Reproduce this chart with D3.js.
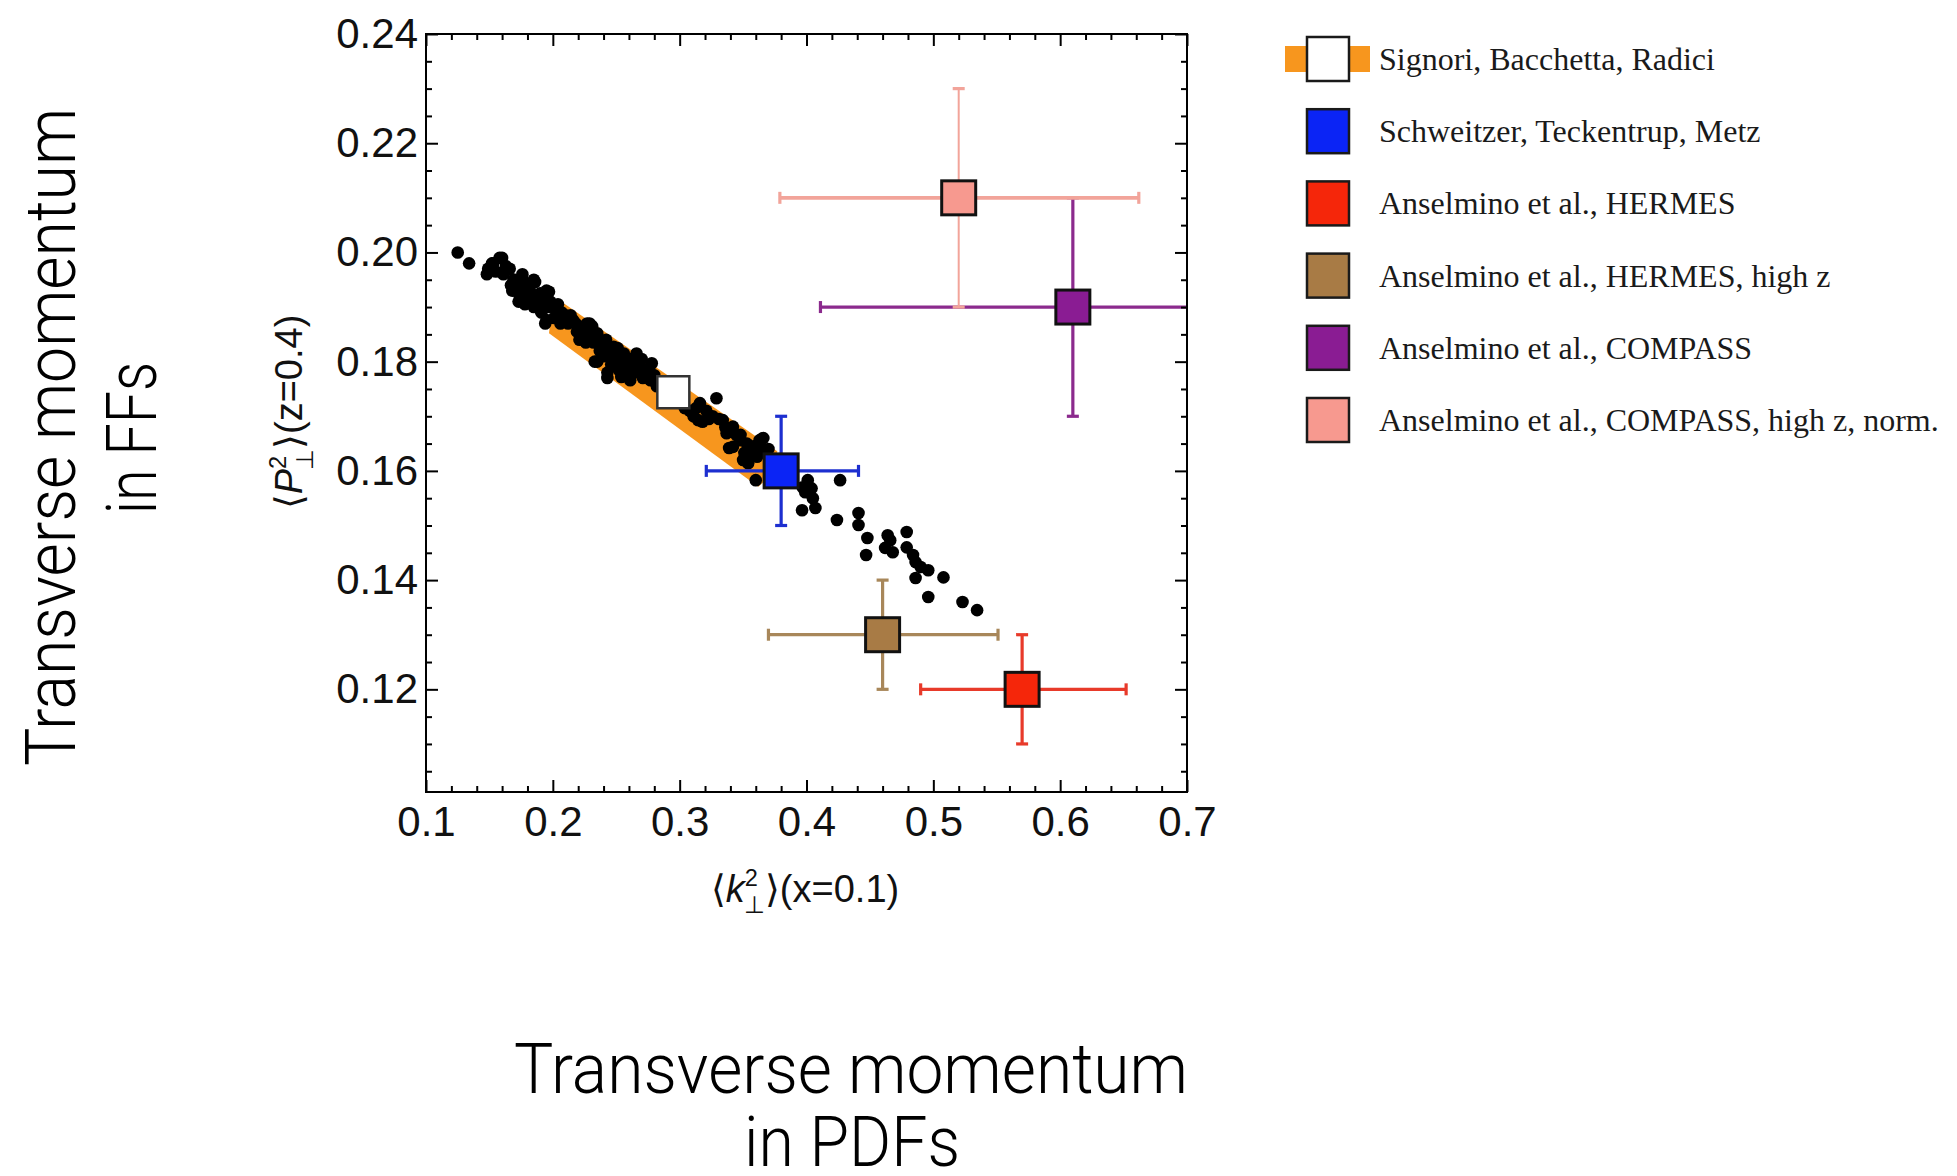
<!DOCTYPE html>
<html>
<head>
<meta charset="utf-8">
<script src="https://cdnjs.cloudflare.com/ajax/libs/d3/7.8.5/d3.min.js"></script>
<style>
    body { margin: 0; background: #fff; }
</style>
</head>
<body>
<svg id="svg" width="1957" height="1176"></svg>
<script>
// tick values / labels
var xTicks = [0.1, 0.2, 0.3, 0.4, 0.5, 0.6, 0.7];
var xTickLabels = ["0.1", "0.2", "0.3", "0.4", "0.5", "0.6", "0.7"];
var yTicks = [0.12, 0.14, 0.16, 0.18, 0.20, 0.22, 0.24];
var yTickLabels = ["0.12", "0.14", "0.16", "0.18", "0.20", "0.22", "0.24"];

// extractions (first one = Signori et al. fit, no error bars)
var fitNames = ["Signori, Bacchetta, Radici",
    "Schweitzer, Teckentrup, Metz",
    "Anselmino et al., HERMES",
    "Anselmino et al., HERMES, high z",
    "Anselmino et al., COMPASS",
    "Anselmino et al., COMPASS, high z, norm."];
var fitX = [0.295, 0.38, 0.57, 0.46, 0.61, 0.52];
var fitY = [0.1744, 0.16, 0.12, 0.13, 0.19, 0.21];
var fitXLo = [null, 0.321, 0.49, 0.37, 0.411, 0.379];
var fitXHi = [null, 0.441, 0.652, 0.551, 0.72, 0.662];
var fitYLo = [null, 0.15, 0.11, 0.12, 0.17, 0.19];
var fitYHi = [null, 0.17, 0.13, 0.14, 0.21, 0.23];

// 68% band of the fit (outline)
var bandX = [0.197, 0.199, 0.206, 0.377, 0.374, 0.362];
var bandY = [0.1852, 0.1895, 0.1911, 0.1636, 0.1596, 0.1571];

// replicas (black dots)
var replicaX = [0.125, 0.134, 0.148, 0.149, 0.152, 0.153, 0.158, 0.160, 0.161, 0.166,
    0.167, 0.169, 0.170, 0.168, 0.173, 0.174, 0.176, 0.176, 0.179, 0.179,
    0.181, 0.185, 0.185, 0.186, 0.190, 0.190, 0.191, 0.194, 0.195, 0.195,
    0.197, 0.198, 0.200, 0.203, 0.206, 0.209, 0.210, 0.216, 0.218, 0.221,
    0.222, 0.227, 0.227, 0.229, 0.230, 0.233, 0.235, 0.235, 0.236, 0.237,
    0.242, 0.242, 0.243, 0.243, 0.248, 0.248, 0.250, 0.253, 0.254, 0.254,
    0.256, 0.258, 0.260, 0.261, 0.264, 0.266, 0.266, 0.272, 0.274, 0.277,
    0.278, 0.282,
    0.155, 0.163, 0.171, 0.175, 0.178, 0.182, 0.184, 0.188, 0.192, 0.196,
    0.201, 0.204, 0.207, 0.212, 0.214, 0.219, 0.224, 0.226, 0.231, 0.232,
    0.239, 0.240, 0.245, 0.246, 0.251, 0.252, 0.257, 0.262, 0.263, 0.268,
    0.270, 0.271, 0.276, 0.280, 0.285,
    0.300, 0.304, 0.308, 0.311, 0.313, 0.3145, 0.316, 0.318, 0.321, 0.323,
    0.326, 0.329, 0.331, 0.334, 0.336, 0.337, 0.339, 0.342, 0.342, 0.345,
    0.348, 0.348, 0.350, 0.351, 0.353, 0.354, 0.356, 0.358, 0.361, 0.363,
    0.365, 0.366, 0.366, 0.370, 0.360,
    0.397, 0.401, 0.404, 0.399, 0.405, 0.3965, 0.407, 0.4265, 0.424, 0.441,
    0.441, 0.448, 0.447, 0.464, 0.466, 0.462, 0.468, 0.479, 0.479, 0.484,
    0.486, 0.490, 0.496, 0.486, 0.508, 0.496, 0.523, 0.5345];
var replicaY = [0.200, 0.198, 0.196, 0.197, 0.198, 0.198, 0.199, 0.199, 0.196, 0.197,
    0.194, 0.195, 0.195, 0.193, 0.191, 0.192, 0.196, 0.195, 0.194, 0.1925,
    0.191, 0.195, 0.190, 0.1946, 0.1925, 0.1895, 0.189, 0.187, 0.193, 0.1876,
    0.1928, 0.191, 0.190, 0.1895, 0.187, 0.188, 0.1885, 0.1876, 0.187, 0.184,
    0.1864, 0.187, 0.1846, 0.187, 0.185, 0.180, 0.1852, 0.180, 0.184, 0.182,
    0.184, 0.1827, 0.178, 0.177, 0.1827, 0.181, 0.182, 0.181, 0.1797, 0.1772,
    0.1815, 0.1797, 0.1785, 0.1766, 0.178, 0.1815, 0.1797, 0.1785, 0.1785, 0.1766,
    0.1797, 0.1755,
    0.1965, 0.1975, 0.1935, 0.1945, 0.1905, 0.193, 0.1915, 0.191, 0.1915, 0.190,
    0.188, 0.1905, 0.189, 0.187, 0.1885, 0.1855, 0.1855, 0.1835, 0.1865, 0.1835,
    0.1835, 0.181, 0.1815, 0.1795, 0.1825, 0.1785, 0.1805, 0.1805, 0.1795, 0.179,
    0.1805, 0.177, 0.1785, 0.1775, 0.176,
    0.1725, 0.1715, 0.171, 0.170, 0.1715, 0.1693, 0.1724, 0.169, 0.171, 0.1695,
    0.170, 0.1733, 0.1695, 0.1693, 0.168, 0.1669, 0.1642, 0.1681, 0.1644, 0.1665,
    0.1666, 0.1656, 0.162, 0.1633, 0.165, 0.1614, 0.1632, 0.1645, 0.1626, 0.1656,
    0.1659, 0.166, 0.1638, 0.164, 0.1583,
    0.157, 0.1583, 0.1568, 0.1561, 0.155, 0.1528, 0.1532, 0.1583, 0.151, 0.1523,
    0.1501, 0.1477, 0.1446, 0.1482, 0.1473, 0.1459, 0.1451, 0.1488, 0.146, 0.1446,
    0.1433, 0.1424, 0.1418, 0.1404, 0.1405, 0.1369, 0.136, 0.1345];

// colours
var fillColors = ["#ffffff", "#0b24f5", "#f5260a", "#a87b45", "#8a1c93", "#f7998f"];
var barColors = [null, "#1d2fd0", "#e83a2a", "#a8875a", "#8b2a8d", "#f2a49a"];
var bandColor = "#f7961e";

var L = 426, R = 1187, T = 34, B = 792;

var svg = d3.select("#svg");
svg.append("rect").attr("width", 1957).attr("height", 1176).attr("fill", "#fff");

var x = d3.scaleLinear().domain([0.1, 0.7]).range([L, R]);
var y = d3.scaleLinear().domain([0.1012, 0.24]).range([B, T]);

svg.append("clipPath").attr("id", "plotclip")
        .append("rect")
        .attr("x", L).attr("y", T)
        .attr("width", R - L).attr("height", B - T);

var plot = svg.append("g").attr("clip-path", "url(#plotclip)");

// band
var band = bandX.map((v, i) => [v, bandY[i]]);
plot.append("path")
        .attr("d", d3.line().x((d) => x(d[0])).y((d) => y(d[1]))(band) + "Z")
        .attr("fill", bandColor);

// replicas
plot.selectAll("circle.rep")
        .data(replicaX.map((v, i) => ({x: v, y: replicaY[i]})))
        .enter()
        .append("circle")
        .attr("class", "rep")
        .attr("cx", (d) => x(d.x))
        .attr("cy", (d) => y(d.y))
        .attr("r", 6.3)
        .attr("fill", "#000");

// error bars
var cap = 6;
fitNames.forEach((n, i) => {
    if (fitXLo[i] === null) return;
    var g = plot.append("g")
            .attr("stroke", barColors[i])
            .attr("stroke-width", 3.2);
    g.append("line")
            .attr("x1", x(fitXLo[i])).attr("x2", x(fitXHi[i]))
            .attr("y1", y(fitY[i])).attr("y2", y(fitY[i]))
            .attr("stroke-width", i == 5 ? 3.6 : 3.2);
    g.append("line")
            .attr("x1", x(fitX[i])).attr("x2", x(fitX[i]))
            .attr("y1", y(fitYLo[i])).attr("y2", y(fitYHi[i]))
            .attr("stroke-width", i == 5 ? 2 : 3.2);
    [fitXLo[i], fitXHi[i]].forEach((v) => {
        g.append("line")
                .attr("x1", x(v)).attr("x2", x(v))
                .attr("y1", y(fitY[i]) - cap).attr("y2", y(fitY[i]) + cap);
    });
    [fitYLo[i], fitYHi[i]].forEach((v) => {
        g.append("line")
                .attr("x1", x(fitX[i]) - cap).attr("x2", x(fitX[i]) + cap)
                .attr("y1", y(v)).attr("y2", y(v));
    });
});

// squares
fitNames.forEach((n, i) => {
    var s = i == 0 ? 32 : 34;
    plot.append("rect")
            .attr("x", x(fitX[i]) - s / 2)
            .attr("y", y(fitY[i]) - s / 2)
            .attr("width", s).attr("height", s)
            .attr("fill", fillColors[i])
            .attr("stroke", i == 0 ? "#333" : "#111")
            .attr("stroke-width", i == 0 ? 2.5 : 3);
});

// axes: major + minor ticks on all four sides, pointing in
var xMinor = d3.range(0.1, 0.7001, 0.02).filter((v) => Math.abs(v * 10 - Math.round(v * 10)) > 1e-6);
var yMinor = d3.range(0.105, 0.2401, 0.005).filter((v) => Math.abs(v * 50 - Math.round(v * 50)) > 1e-6);

function styleAxis(sel) {
    sel.select(".domain").remove();
    sel.selectAll("line").attr("stroke", "#000").attr("stroke-width", 2);
    sel.selectAll("text").attr("font-size", 42).attr("fill", "#111")
            .style("font-family", "'Liberation Sans', Arial, sans-serif");
}

svg.append("g").attr("transform", "translate(0," + B + ")")
        .call(d3.axisBottom(x).tickValues(xTicks)
                .tickFormat((d, i) => xTickLabels[i])
                .tickSize(-12).tickPadding(14))
        .call(styleAxis);
svg.append("g").attr("transform", "translate(0," + B + ")")
        .call(d3.axisBottom(x).tickValues(xMinor).tickFormat("").tickSize(-6))
        .call(styleAxis);
svg.append("g").attr("transform", "translate(0," + T + ")")
        .call(d3.axisTop(x).tickValues(xTicks).tickFormat("").tickSize(-12))
        .call(styleAxis);
svg.append("g").attr("transform", "translate(0," + T + ")")
        .call(d3.axisTop(x).tickValues(xMinor).tickFormat("").tickSize(-6))
        .call(styleAxis);

svg.append("g").attr("transform", "translate(" + L + ",0)")
        .call(d3.axisLeft(y).tickValues(yTicks)
                .tickFormat((d, i) => yTickLabels[i])
                .tickSize(-12).tickPadding(8))
        .call(styleAxis);
svg.append("g").attr("transform", "translate(" + L + ",0)")
        .call(d3.axisLeft(y).tickValues(yMinor).tickFormat("").tickSize(-6))
        .call(styleAxis);
svg.append("g").attr("transform", "translate(" + R + ",0)")
        .call(d3.axisRight(y).tickValues(yTicks).tickFormat("").tickSize(-12))
        .call(styleAxis);
svg.append("g").attr("transform", "translate(" + R + ",0)")
        .call(d3.axisRight(y).tickValues(yMinor).tickFormat("").tickSize(-6))
        .call(styleAxis);

// frame
svg.append("rect")
        .attr("x", L).attr("y", T)
        .attr("width", R - L).attr("height", B - T)
        .attr("fill", "none")
        .attr("stroke", "#000")
        .attr("stroke-width", 2);

// axis labels  <k_perp^2>(x=0.1)  and  <P_perp^2>(z=0.4)
function mathLabel(parent, letter, tail, size) {
    var t = parent.append("text")
            .attr("text-anchor", "middle")
            .attr("font-size", size)
            .attr("fill", "#111")
            .style("font-family", "'Liberation Sans', Arial, sans-serif");
    t.append("tspan").text("\u27E8");
    t.append("tspan").attr("font-style", "italic").text(letter);
    var sup = t.append("tspan")
            .attr("font-size", size * 0.62)
            .attr("dy", -size * 0.42)
            .text("2");
    var w = sup.node().getComputedTextLength();
    t.append("tspan")
            .attr("font-size", size * 0.62)
            .attr("dx", -w - 1)
            .attr("dy", size * 0.7)
            .text("\u22A5");
    t.append("tspan").attr("dy", -size * 0.28).text("\u27E9" + tail);
    return t;
}

mathLabel(svg.append("g").attr("transform", "translate(805,902)"), "k", "(x=0.1)", 38);
mathLabel(svg.append("g").attr("transform", "translate(302,412) rotate(-90)"), "P", "(z=0.4)", 38);

// legend
var leg = svg.append("g").attr("transform", "translate(1306,59)");
leg.append("rect")
        .attr("x", -21).attr("y", -13)
        .attr("width", 85).attr("height", 26)
        .attr("fill", bandColor);
fitNames.forEach((n, i) => {
    var cy = i * 72.2;
    leg.append("rect")
            .attr("x", 1).attr("y", cy - 22)
            .attr("width", 42).attr("height", 44)
            .attr("fill", fillColors[i])
            .attr("stroke", "#1a1a1a")
            .attr("stroke-width", 2.5);
    leg.append("text")
            .attr("x", 73).attr("y", cy + 11)
            .style("font-family", "'Liberation Serif', 'Times New Roman', serif")
            .attr("font-size", 32)
            .attr("fill", "#1a1a1a")
            .text(n);
});

// big titles
function bigTitle(x0, y0, rot, str, len) {
    svg.append("text")
            .attr("transform", "translate(" + x0 + "," + y0 + ") rotate(" + rot + ")")
            .attr("text-anchor", "middle")
            .style("font-family", "Roboto, sans-serif")
            .attr("font-weight", 300)
            .attr("font-size", 70)
            .attr("fill", "#000")
            .attr("textLength", len)
            .attr("lengthAdjust", "spacingAndGlyphs")
            .text(str);
}
bigTitle(851, 1093, 0, "Transverse momentum", 674);
bigTitle(852, 1166, 0, "in PDFs", 216);
bigTitle(75, 437, -90, "Transverse momentum", 658);
bigTitle(156, 438, -90, "in FFs", 152);
</script>
</body>
</html>
